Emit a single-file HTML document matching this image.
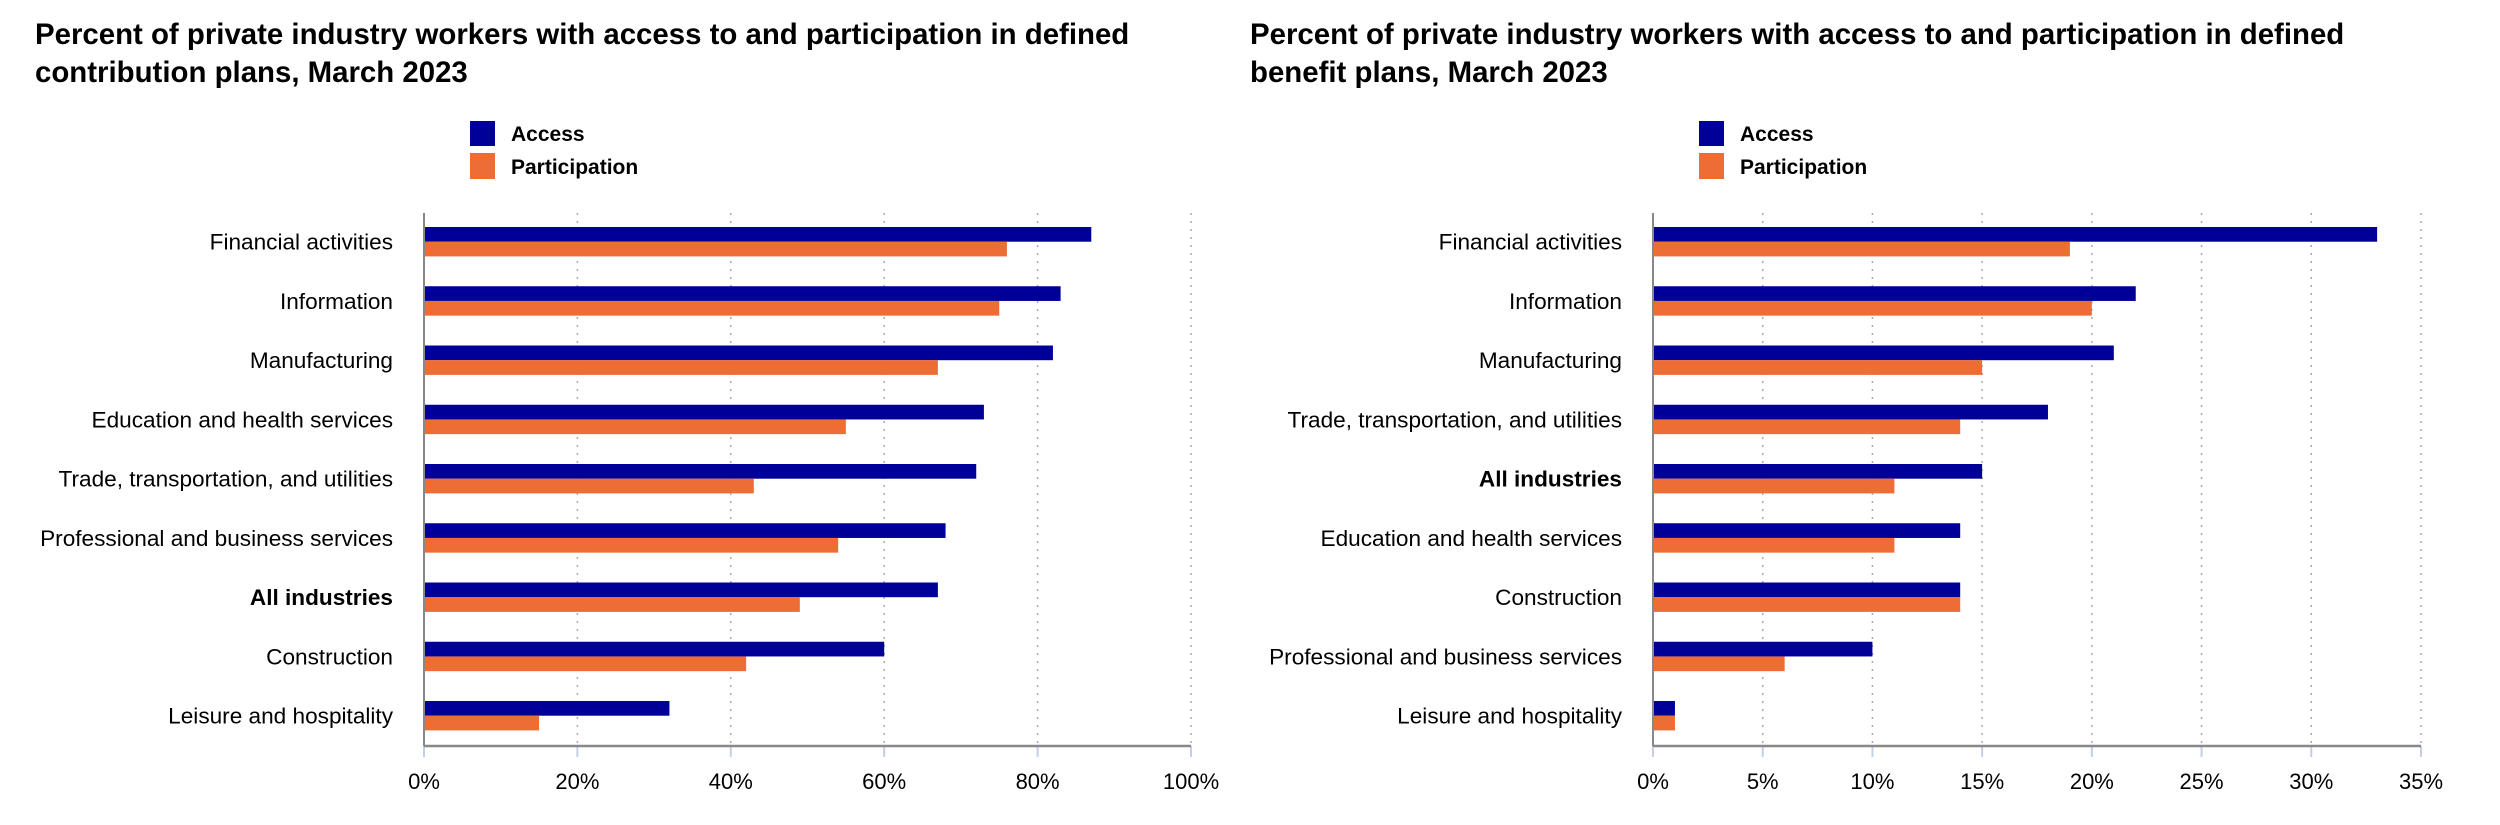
<!DOCTYPE html>
<html><head><meta charset="utf-8"><style>
html,body{margin:0;padding:0;background:#fff;width:2500px;height:825px;overflow:hidden}
svg{display:block}
text{font-family:"Liberation Sans",Arial,sans-serif}
</style></head><body>
<svg id="c" width="2500" height="825" xmlns="http://www.w3.org/2000/svg">
<text x="35" y="44" font-size="29.4" font-weight="bold" fill="#000">Percent of private industry workers with access to and participation in defined</text>
<text x="35" y="82" font-size="29.4" font-weight="bold" fill="#000">contribution plans, March 2023</text>
<text x="1250" y="44" font-size="29.4" font-weight="bold" fill="#000">Percent of private industry workers with access to and participation in defined</text>
<text x="1250" y="82" font-size="29.4" font-weight="bold" fill="#000">benefit plans, March 2023</text>
</svg>
<script>
const dcCategories=["Financial activities","Information","Manufacturing","Education and health services","Trade, transportation, and utilities","Professional and business services","All industries","Construction","Leisure and hospitality"];
const dcAccess=[87,83,82,73,72,68,67,60,32];
const dcParticipation=[76,75,67,55,43,54,49,42,15];
const dcTicks=[0,20,40,60,80,100];
const dbCategories=["Financial activities","Information","Manufacturing","Trade, transportation, and utilities","All industries","Education and health services","Construction","Professional and business services","Leisure and hospitality"];
const dbAccess=[33,22,21,18,15,14,14,10,1];
const dbParticipation=[19,20,15,14,11,11,14,6,1];
const dbTicks=[0,5,10,15,20,25,30,35];

const NS="http://www.w3.org/2000/svg";
const svg=document.getElementById('c');
function mk(tag,attrs,parent){const e=document.createElementNS(NS,tag);for(const k in attrs)e.setAttribute(k,attrs[k]);(parent||svg).appendChild(e);return e;}

function drawChart(prefix,x0,x1,cats,acc,par,ticks){
  const maxV=ticks[ticks.length-1];
  const xs=v=>x0+(x1-x0)*v/maxV;
  const top=213,bottom=746,firstBar=227,step=59.25,bh=14.7;
  const g=mk('g',{});
  
  
  const lx=x0+46;
  const la=mk('rect',{x:lx,y:121,width:25,height:25,fill:'#000099'},g);
  
  
  const lat=mk('text',{x:lx+41,y:141,'font-size':21,'font-weight':'bold',fill:'#000'},g);
  lat.textContent='Access';
  
  
  const lp=mk('rect',{x:lx,y:153,width:25,height:26,fill:'#ED6D35'},g);
  
  
  const lpt=mk('text',{x:lx+41,y:174,'font-size':21,'font-weight':'bold',fill:'#000'},g);
  lpt.textContent='Participation';
  
  
  ticks.forEach((t,i)=>{
    const x=xs(t);
    if(i>0){
      const gl=mk('line',{x1:x,y1:top,x2:x,y2:bottom,stroke:'#aaa','stroke-width':1.5,'stroke-dasharray':'2 6'},g);
      
      
    }
    const tk=mk('line',{x1:x,y1:bottom,x2:x,y2:bottom+11,stroke:'#c3cfe8','stroke-width':2},g);
    
    
    const tl=mk('text',{x:x,y:789,'font-size':22,'text-anchor':'middle',fill:'#000'},g);
    tl.textContent=t+'%';
    
    
  });
  cats.forEach((c,i)=>{
    const y=firstBar+i*step;
    const ba=mk('rect',{x:x0,y:y,width:xs(acc[i])-x0,height:bh,fill:'#000099'},g);
    
    
    const bp=mk('rect',{x:x0,y:y+bh,width:xs(par[i])-x0,height:bh,fill:'#ED6D35'},g);
    
    
    const lab=mk('text',{x:x0-31,y:y+bh+8,'font-size':22.6,'text-anchor':'end',fill:'#000','font-weight':c==='All industries'?'bold':'normal'},g);
    lab.textContent=c;
    
    
  });
  const ya=mk('line',{x1:x0,y1:top,x2:x0,y2:bottom,stroke:'#888','stroke-width':2},g);
  
  
  const xa=mk('line',{x1:x0,y1:bottom,x2:x1,y2:bottom,stroke:'#888','stroke-width':2.5},g);
  
  
}
drawChart('dc',424,1191,dcCategories,dcAccess,dcParticipation,dcTicks);
drawChart('db',1653,2421,dbCategories,dbAccess,dbParticipation,dbTicks);
</script>
</body></html>
